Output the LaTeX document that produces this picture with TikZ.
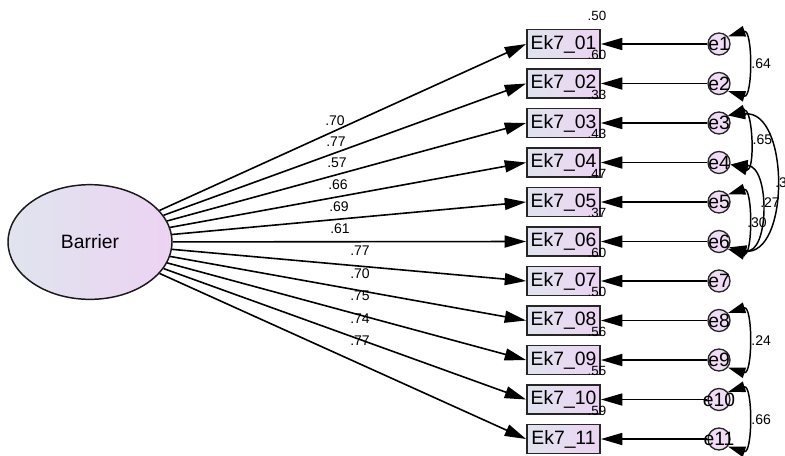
\documentclass[tikz,border=0pt]{standalone}
\usepackage{fontspec}
\setmainfont{Liberation Sans}
\usetikzlibrary{arrows.meta,shapes.geometric}
\definecolor{semblue}{RGB}{224,228,238}
\definecolor{sempink}{RGB}{236,211,243}
\tikzset{
  latent/.style={ellipse, draw=black!90, line width=1.1pt, left color=semblue, right color=sempink,
    minimum width=123pt, minimum height=86pt, font=\fontsize{14.5}{14.5}\selectfont},
  obs/.style={draw=black!85, line width=1.4pt, left color=semblue, right color=sempink,
    minimum width=54.75pt, minimum height=21.75pt, inner sep=0pt, font=\fontsize{14.5}{14.5}\selectfont},
  err/.style={circle, draw=black!85, line width=1pt, fill=sempink!80, minimum size=16.5pt,
    inner sep=0pt, font=\fontsize{14.5}{14.5}\selectfont},
  reg/.style={line width=1.2pt, -{Triangle[length=16pt,width=9pt]}},
  cov/.style={line width=1.1pt, {Triangle[length=13pt,width=8pt]}-{Triangle[length=13pt,width=8pt]}},
  lbl/.style={inner sep=0pt, font=\fontsize{10.5}{10.5}\selectfont},
  rsq/.style={inner sep=0pt, font=\fontsize{10}{10}\selectfont}
}
\begin{document}
\begin{tikzpicture}[x=0.75pt,y=-0.75pt]
  \useasboundingbox (0,0) rectangle (785,455);
  \node[latent] (bar) at (90,242) {Barrier};
  % items, error terms and loadings
  \foreach \i/\nm/\lam/\lx/\ly/\r in {1/01/.70/335/121/.50, 2/02/.77/336/142/.60, 3/03/.57/337/163/.33,
      4/04/.66/338/185/.43, 5/05/.69/339/207/.47, 6/06/.61/340/229/.37, 7/07/.77/360/251/.60,
      8/08/.70/360/274/.50, 9/09/.75/360/296/.56, 10/10/.74/360/319/.55, 11/11/.77/360/341/.59}{
    \pgfmathsetmacro\yy{44+39.5*(\i-1)}
    \node[obs] (ek\i) at (563.5,\yy) {Ek7\_\nm};
    \node[err] (e\i) at (719,\yy) {\makebox[0pt]{e\i}};
    \draw[reg] (bar) -- (ek\i.west);
    \draw[reg] (e\i) -- (ek\i.east);
    \node[lbl] at (\lx,\ly) {\lam};
    \node[rsq] at (597,\yy-28.5) {\r};
  }
  % covariances
  \draw[cov] (e1.40) .. controls +(25,-8) and +(25,8) .. (e2.-40) node[lbl, pos=.5, right=3pt] {.64};
  \draw[cov] (e3.40) .. controls +(25,-8) and +(25,8) .. (e4.-10) node[lbl, pos=.5, right=3pt] {.65};
  \draw[cov] (e3.40) .. controls +(62,-6) and +(62,8) .. (e6.-40);
  \draw[cov] (e4.-10) .. controls +(40,2) and +(40,8) .. (e6.-30);
  \draw[cov] (e5.40) .. controls +(25,-8) and +(25,8) .. (e6.-40);
  \node[lbl, anchor=west] at (775,183) {.3};
  \node[lbl] at (770,203) {.27};
  \node[lbl] at (757,223) {.30};
  \draw[cov] (e8.40) .. controls +(25,-8) and +(25,8) .. (e9.-40) node[lbl, pos=.5, right=3pt] {.24};
  \draw[cov] (e10.40) .. controls +(25,-8) and +(25,8) .. (e11.-40) node[lbl, pos=.5, right=3pt] {.66};
\end{tikzpicture}
\end{document}
